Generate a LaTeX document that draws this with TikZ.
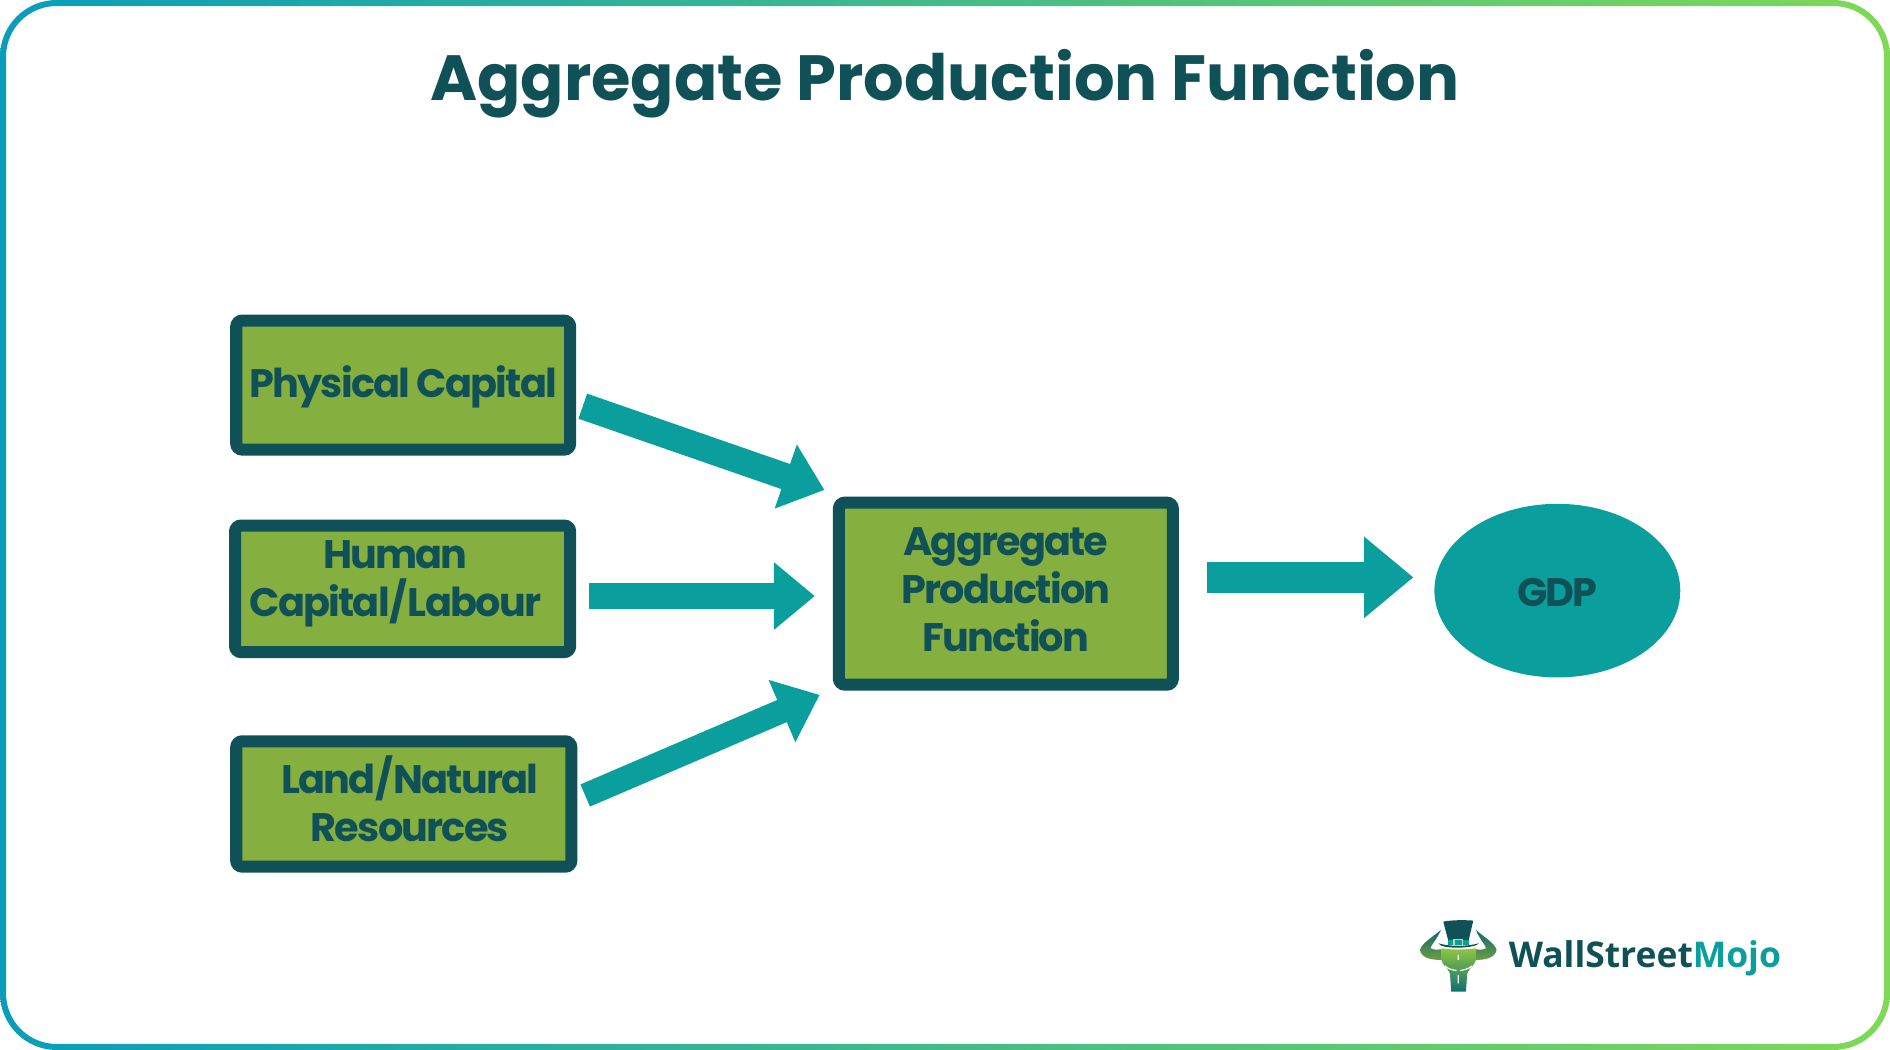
\documentclass[tikz,border=0pt]{standalone}
\usepackage{fontspec}
\setmainfont{Poppins}
\newfontfamily\logofont{Open Sans}
\usetikzlibrary{arrows.meta,shapes.geometric}
\definecolor{deep}{HTML}{0F5157}
\definecolor{leaf}{HTML}{85B040}
\definecolor{lime}{HTML}{8FC63F}
\definecolor{aqua}{HTML}{0A9F9D}
\definecolor{ringa}{HTML}{099DBB}
\definecolor{ringb}{HTML}{7ED957}
\newcommand\boxfont{\fontsize{16.5}{20}\selectfont\bfseries\addfontfeatures{LetterSpace=-4.5}}
\tikzset{
  boxed/.style={draw=deep,fill=leaf,line width=5pt,rounded corners=2.5pt,align=center,text=deep,font=\boxfont,inner sep=0pt},
  blockarrow/.style={draw=aqua,line width=#1,-{Triangle[length=17pt,width=27pt,fill=aqua]}},
  bigarrow/.style={draw=aqua,line width=13pt,-{Triangle[length=20.5pt,width=32.5pt,fill=aqua]}},
}
\begin{document}
\begin{tikzpicture}[x=0.5pt,y=-0.5pt]
\useasboundingbox (0,0) rectangle (1568,871.1);
\fill[white] (0,0) rectangle (1568,871.1);
\shade[left color=ringa,right color=ringb,even odd rule]
  (0,0) [rounded corners=23.5pt] rectangle (1568,871.1)
  (5,5) [rounded corners=21pt] rectangle (1563,866.1);
\node[text=deep,font=\fontsize{26.5}{30}\selectfont\bfseries] (title) at (784,69.5) {Aggregate Production Function};
\node[boxed,minimum width=138.5pt,minimum height=53.5pt] (phys) at (334.5,319.5) {\rule{0pt}{14.7pt}Physical Capital};
\node[boxed,minimum width=139pt,minimum height=52.5pt] (human) at (334,488.5) {\hspace*{-6pt}\begin{tabular}{@{}c@{}}Human\\Capital\smash{/}Labour\\[5pt]\end{tabular}};
\node[boxed,minimum width=139pt,minimum height=52pt] (land) at (335,667) {\hspace*{5pt}\begin{tabular}{@{}c@{}}\rule{0pt}{17pt}Land\smash{/}Natural\\Resources\end{tabular}};
\node[boxed,minimum width=138.5pt,minimum height=75.5pt] (agg) at (834.5,492.5) {\begin{tabular}{@{}c@{}}Aggregate\\Production\\Function\end{tabular}};
\node[ellipse,fill=aqua,minimum width=102pt,minimum height=72pt,inner sep=0pt,text=deep,font=\boxfont] (gdp) at (1292,490) {\rule{0pt}{13.5pt}GDP};
\draw[blockarrow=11pt] ([shift={(5.5,17.5)}]phys.east) -- ([shift={(-7,-5.5)}]agg.north west);
\draw[blockarrow=10.5pt] ([shift={(11,6)}]human.east) -- ([shift={(-15,2)}]agg.west);
\draw[blockarrow=10pt] ([shift={(6.5,-7)}]land.east) -- ([shift={(-11,3.5)}]agg.south west);
\draw[bigarrow] ([shift={(23,-13.5)}]agg.east) -- ([shift={(-17,-11)}]gdp.west);
% logo
\begin{scope}[shift={(572.4pt,-365.0pt)},x=0.1383pt,y=-0.1383pt]
  \shade[top color=aqua!30!deep,bottom color=leaf!80!deep] (183,150) .. controls (170,180) and (150,200) .. (152,205) .. controls (165,212) and (175,208) .. (184,208) -- (184,240) .. controls (155,240) and (125,235) .. (120,210) .. controls (125,190) and (160,170) .. (183,150) -- cycle;
  \shade[top color=aqua!30!deep,bottom color=leaf!80!deep] (288,150) .. controls (300,180) and (320,200) .. (318,205) .. controls (305,212) and (295,208) .. (287,208) -- (287,240) .. controls (315,240) and (345,235) .. (350,210) .. controls (345,190) and (310,170) .. (288,150) -- cycle;
  \shade[top color=lime,middle color=lime!75!deep,bottom color=aqua!40!deep] (184,205) .. controls (215,210) and (255,210) .. (288,205) -- (288,240) .. controls (285,255) and (268,265) .. (262,280) -- (258,335) -- (214,335) -- (210,280) .. controls (204,265) and (187,255) .. (184,240) -- cycle;
  \draw[white,line width=0.5pt] (195,258) .. controls (205,268) and (220,270) .. (230,272) (276,258) .. controls (266,268) and (250,270) .. (240,272) (235,225) -- (235,240) (235,285) -- (235,310);
  \fill[deep] (190,125) .. controls (220,120) and (250,120) .. (280,122) -- (266,182) -- (205,182) -- cycle;
  \fill[deep] (175,190) .. controls (205,200) and (265,200) .. (297,190) .. controls (290,205) and (185,210) .. (175,190) -- cycle;
  \fill[aqua] (204,180) rectangle (266,195);
  \draw[leaf!50!white,line width=0.5pt] (222,178) rectangle (248,196);
  \node[anchor=base west,inner sep=0pt,text=deep,font=\logofont\fontsize{14.7}{18}\selectfont\bfseries] (wsm) at (385,262) {WallStreet\textcolor{aqua}{Mojo}};
\end{scope}
\end{tikzpicture}
\end{document}
